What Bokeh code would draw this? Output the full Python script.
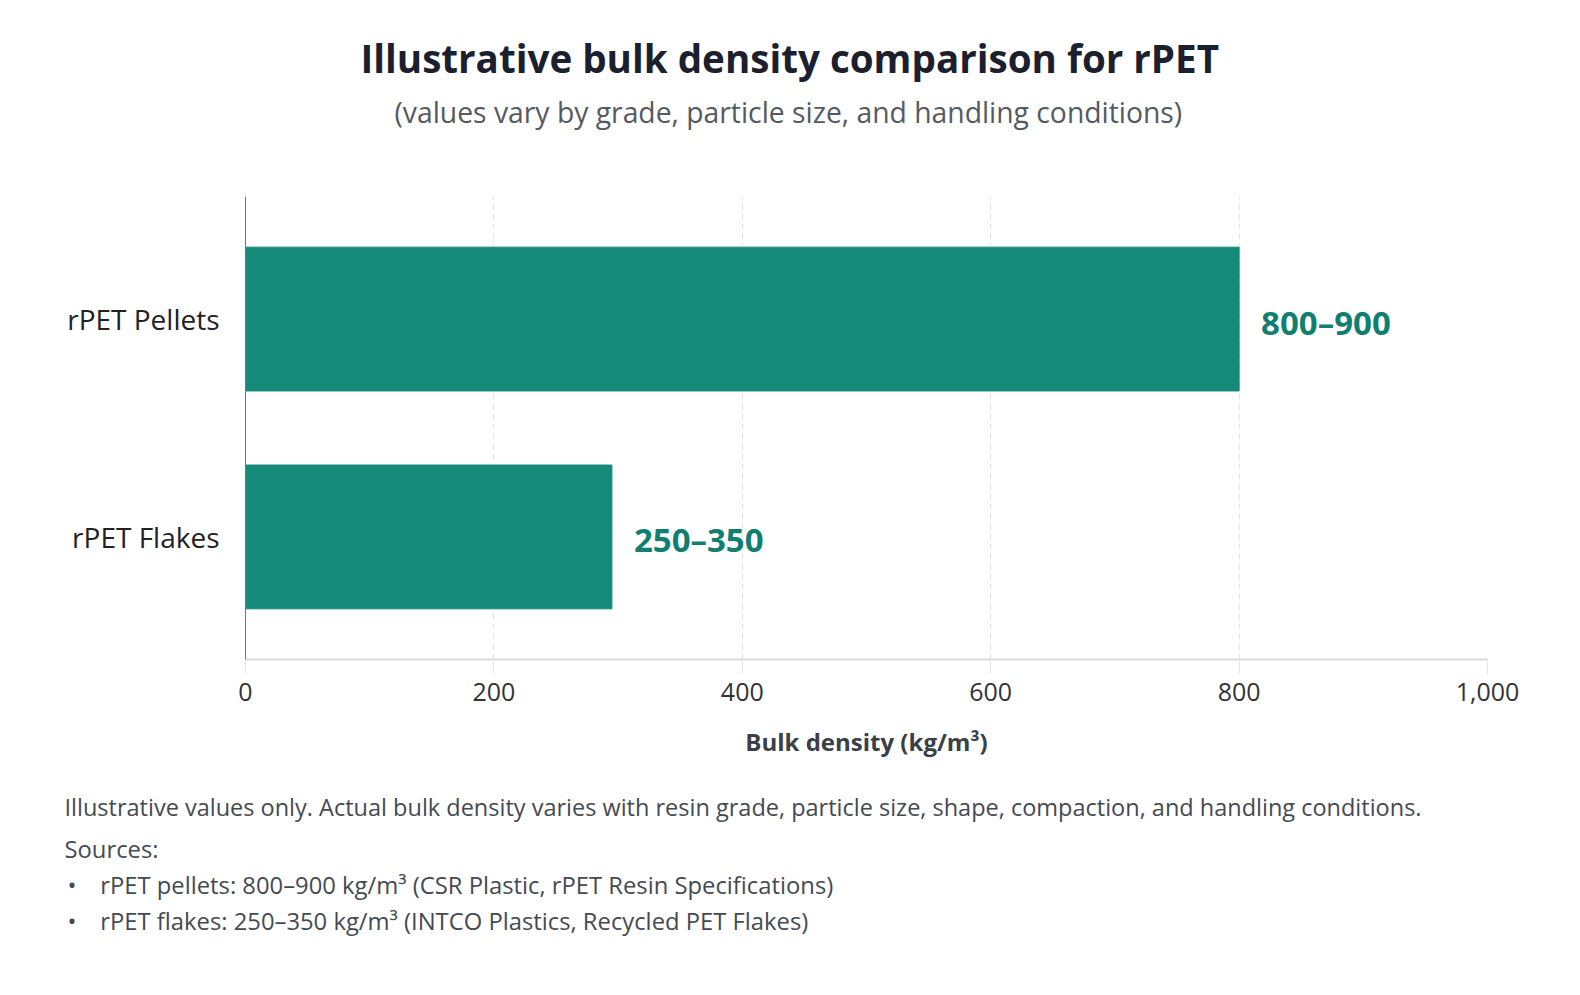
from bokeh.plotting import figure
from bokeh.models import ColumnDataSource, FactorRange, FixedTicker, NumeralTickFormatter, Title
from bokeh.core.properties import value
from bokeh.embed import file_html
from bokeh.resources import INLINE

# Data
categories = ["rPET Flakes", "rPET Pellets"]
bulk_density = [295, 800]
range_labels = ["250\u2013350", "800\u2013900"]
x_ticks = [0, 200, 400, 600, 800, 1000]

title_text = "Illustrative bulk density comparison for rPET"
subtitle_text = "(values vary by grade, particle size, and handling conditions)"
note_text = ("Illustrative values only. Actual bulk density varies with resin grade, "
             "particle size, shape, compaction, and handling conditions.")
sources_title = "Sources:"
sources = [
    "rPET pellets: 800\u2013900 kg/m\u00b3 (CSR Plastic, rPET Resin Specifications)",
    "rPET flakes: 250\u2013350 kg/m\u00b3 (INTCO Plastics, Recycled PET Flakes)",
]

FONT = "Open Sans"
TEAL = "#15897a"
NOTE_COLOR = "#454a52"

source = ColumnDataSource(data=dict(cat=categories, val=bulk_density, lab=range_labels))

p = figure(
    width=1560, height=975,
    y_range=FactorRange(factors=categories, range_padding=0.0625),
    x_range=(0, 1000),
    output_backend="svg", toolbar_location=None,
    min_border_left=245, min_border_right=73, min_border_top=196, min_border_bottom=316,
)
p.outline_line_color = None

p.hbar(y="cat", right="val", height=0.66, source=source, color=TEAL)
p.text(x="val", y="cat", text="lab", source=source, x_offset=22, y_offset=3,
       text_align="left", text_baseline="middle",
       text_font=value(FONT), text_font_size="33px", text_font_style="bold",
       text_color="#107f70")

# x axis
p.xaxis.ticker = FixedTicker(ticks=x_ticks)
p.xaxis.formatter = NumeralTickFormatter(format="0,0")
p.xaxis.axis_line_color = "#d9d9d9"
p.xaxis.axis_line_width = 2
p.xaxis.major_tick_line_color = "#e6e6e6"
p.xaxis.major_tick_out = 14
p.xaxis.major_tick_in = 0
p.xaxis.minor_tick_line_color = None
p.xaxis.major_label_standoff = 9
p.xaxis.major_label_text_font = FONT
p.xaxis.major_label_text_font_size = "25px"
p.xaxis.major_label_text_color = "#333333"
p.xaxis.axis_label = "Bulk density (kg/m\u00b3)"
p.xaxis.axis_label_text_font = FONT
p.xaxis.axis_label_text_font_size = "24px"
p.xaxis.axis_label_text_font_style = "bold"
p.xaxis.axis_label_text_color = "#3a3f48"
p.xaxis.axis_label_standoff = 21

# y axis
p.yaxis.axis_line_color = "#777777"
p.yaxis.major_tick_line_color = None
p.yaxis.minor_tick_line_color = None
p.yaxis.major_label_standoff = 20
p.yaxis.major_label_text_font = FONT
p.yaxis.major_label_text_font_size = "28px"
p.yaxis.major_label_text_color = "#222222"

p.xgrid.grid_line_color = "#e3e3e3"
p.xgrid.grid_line_dash = "6 4"
p.ygrid.grid_line_color = None

# title and subtitle (stacked outward from the frame: spacer, subtitle, title)
p.title.text = title_text
p.title.align = "left"
p.title.offset = 115
p.title.text_font = FONT
p.title.text_font_size = "38.6px"
p.title.text_font_style = "bold"
p.title.text_color = "#1b1f2e"
p.title.standoff = 9
p.add_layout(Title(text=" ", text_font=FONT, text_font_size="8px", standoff=51), "above")
p.add_layout(Title(text=subtitle_text, align="left", offset=149, standoff=4,
                   text_font=FONT, text_font_size="28.3px", text_font_style="normal",
                   text_color="#555a60"), "above")

# notes below the chart
p.add_layout(Title(text=" ", text_font=FONT, text_font_size="8px", standoff=8), "below")

def note(text, offset, standoff, size="23.5px"):
    p.add_layout(Title(text=text, align="left", offset=offset, standoff=standoff,
                       text_font=FONT, text_font_size=size, text_font_style="normal",
                       text_color=NOTE_COLOR), "below")

note(note_text, -181, 14)
note(sources_title, -181, 2, "23.8px")
for s in sources:
    note("\u2022\u2003" + s, -178, 2, "23.8px")

open("out.html", "w").write(file_html(p, INLINE))
